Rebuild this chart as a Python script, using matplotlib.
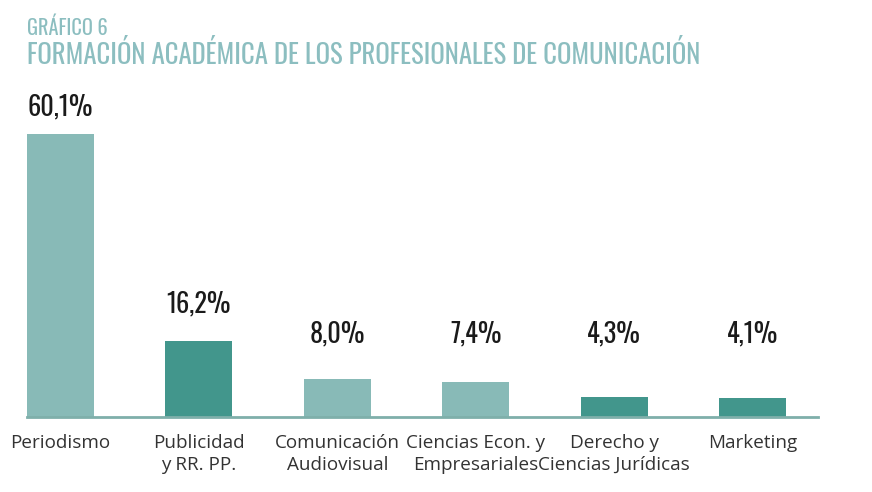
import matplotlib
matplotlib.use("Agg")
import matplotlib.pyplot as plt

categories = ["Periodismo", "Publicidad\ny RR. PP.", "Comunicación\nAudiovisual",
              "Ciencias Econ. y\nEmpresariales", "Derecho y\nCiencias Jurídicas", "Marketing"]
values = [60.1, 16.2, 8.0, 7.4, 4.3, 4.1]
value_labels = ["60,1%", "16,2%", "8,0%", "7,4%", "4,3%", "4,1%"]

light = "#88BAB7"
dark = "#42968C"
colors = [light, dark, light, light, dark, dark]
label_offsets = [4.0, 6.1, 7.9, 7.9, 7.9, 7.9]

narrow = ["Oswald", "DejaVu Sans"]
body = ["Open Sans", "DejaVu Sans"]

W, H = 872, 492
fig = plt.figure(figsize=(W / 100, H / 100), dpi=100)
ax = fig.add_axes([27 / W, (H - 417) / H, (818 - 27) / W, (417 - 134) / H])

x = list(range(len(values)))
ax.bar(x, values, width=0.484, color=colors, edgecolor="none", zorder=2)
ax.set_xlim(-0.242, 5.473)
ax.set_ylim(0, 60.1)

for xi, v, lab, off in zip(x, values, value_labels, label_offsets):
    ax.text(xi, max(v, 8.0) + off, lab, ha="center", va="baseline",
            fontsize=19, family=narrow, color="#1a1a1a", clip_on=False)

for s in ["top", "right", "left"]:
    ax.spines[s].set_visible(False)
ax.spines["bottom"].set_color("#7FAFAA")
ax.spines["bottom"].set_linewidth(2)
ax.set_yticks([])
ax.set_xticks(x)
ax.set_xticklabels(categories, fontsize=13.6, family=body, color="#333333", linespacing=1.32)
ax.tick_params(axis="x", length=0, pad=12)

fig.text(27 / W, 1 - 35 / H, "GRÁFICO 6", ha="left", va="baseline", fontsize=14.6,
         family=narrow, color="#8CBEC0")
fig.text(27 / W, 1 - 64 / H, "FORMACIÓN ACADÉMICA DE LOS PROFESIONALES DE COMUNICACIÓN",
         ha="left", va="baseline", fontsize=19.3, family=narrow, color="#8CBEC0")

fig.savefig("out.png", dpi=100)
